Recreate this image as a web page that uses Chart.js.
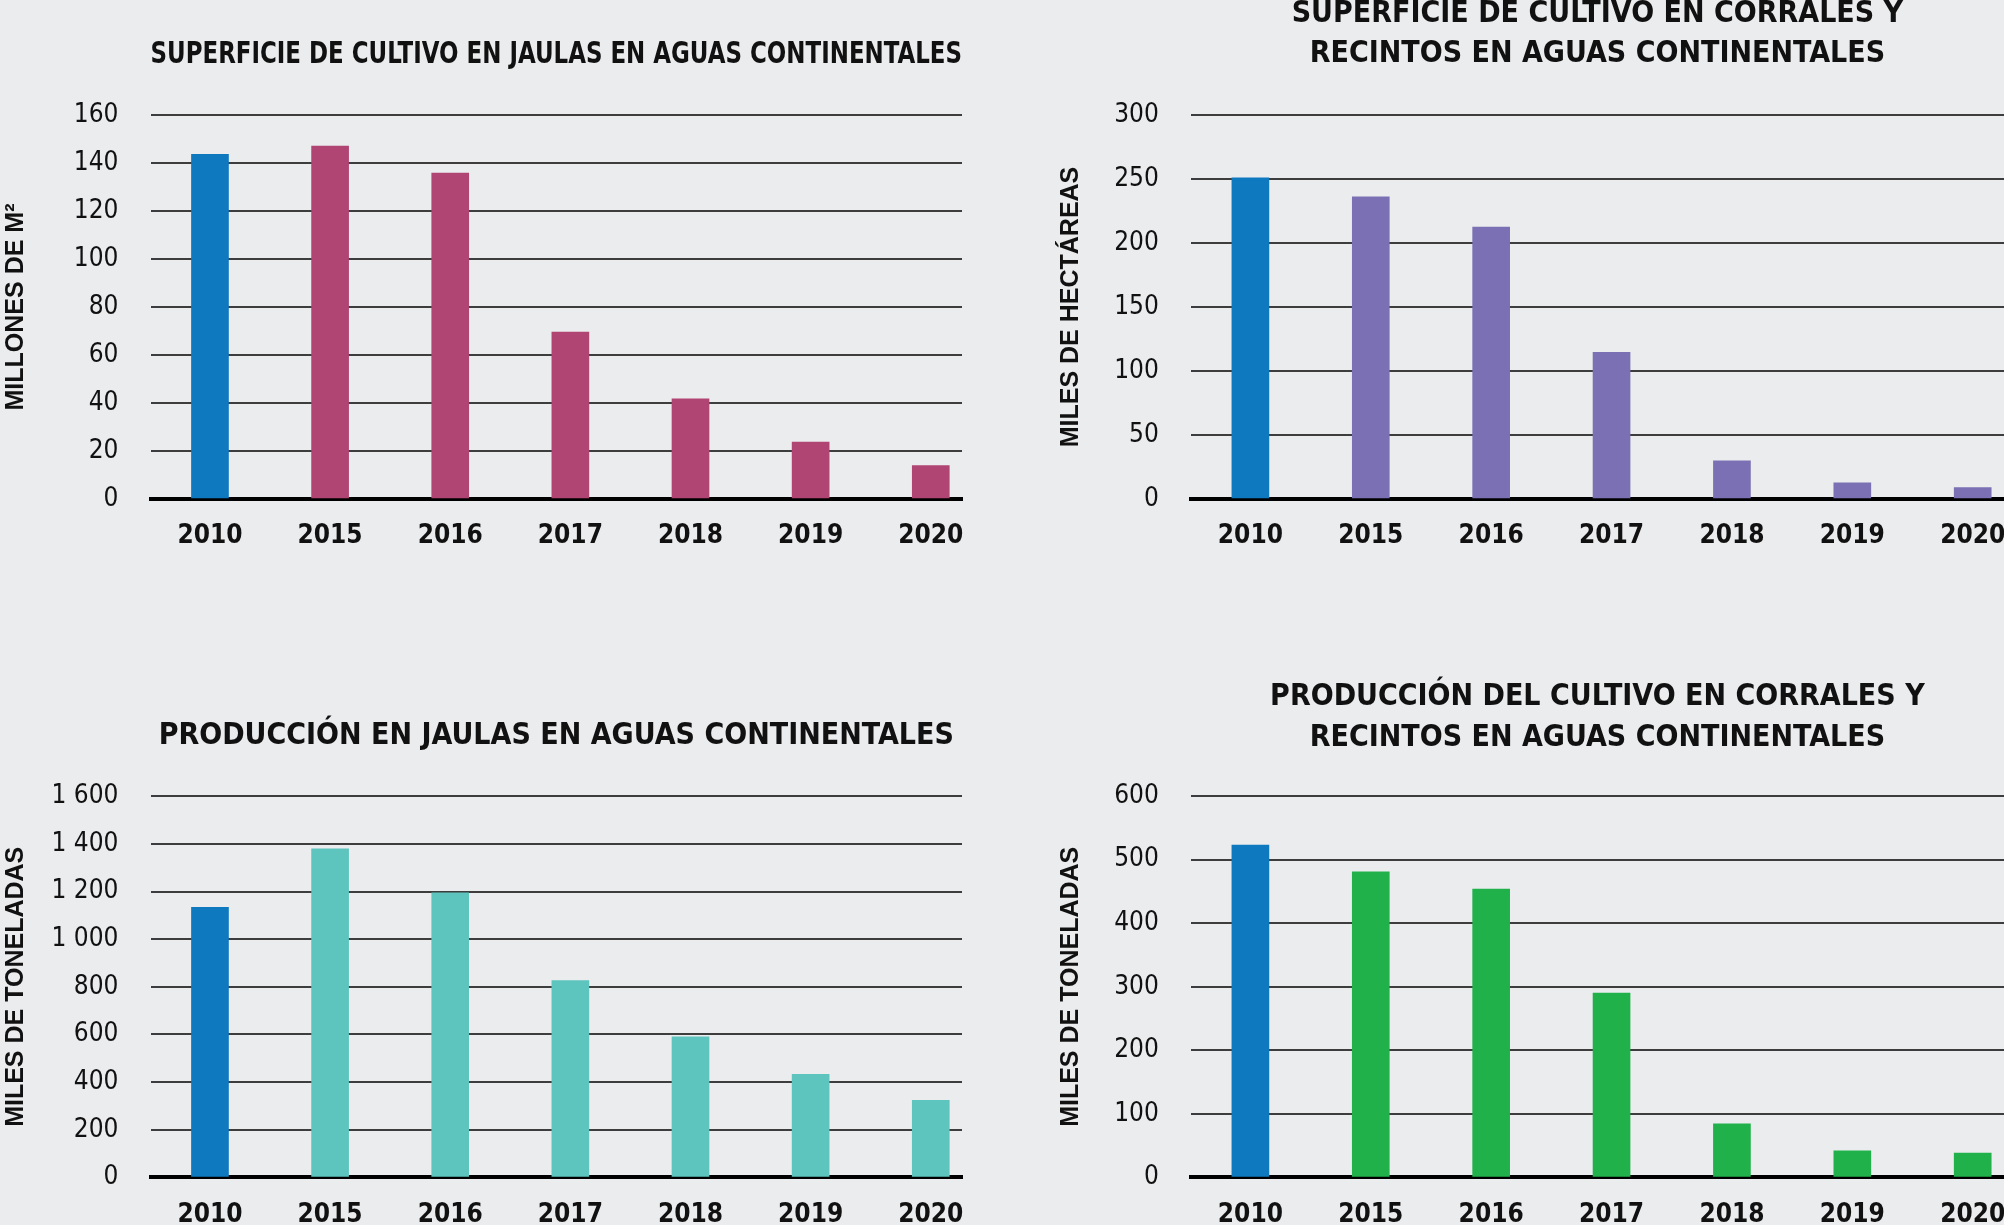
<!DOCTYPE html>
<html>
<head>
<meta charset="utf-8" />
<title>Cultivo en jaulas y corrales</title>
<script src="https://cdn.jsdelivr.net/npm/chart.js"></script>
<style>
  html, body { margin: 0; padding: 0; background: #ebecee; overflow: hidden; }
  canvas { position: absolute; }
</style>
</head>
<body>

<canvas id="c1" width="1002" height="632" style="left:0;top:-20px"></canvas>
<canvas id="c2" width="1040" height="632" style="left:1002px;top:-20px"></canvas>
<canvas id="c3" width="1002" height="613" style="left:0;top:612px"></canvas>
<canvas id="c4" width="1040" height="613" style="left:1002px;top:612px"></canvas>

<script>
// years shown on every panel
const years = ['2010', '2015', '2016', '2017', '2018', '2019', '2020'];

// superficie de cultivo en jaulas (millones de m2)
const jaulasSuperficie = [143.6, 147, 135.8, 69.6, 41.7, 23.7, 13.9];
// superficie de cultivo en corrales y recintos (miles de hectareas)
const corralesSuperficie = [251, 236, 212.4, 114.5, 29.9, 12.7, 9];
// produccion en jaulas (miles de toneladas)
const jaulasProduccion = [1134, 1379, 1194, 826, 590, 433, 324];
// produccion en corrales y recintos (miles de toneladas)
const corralesProduccion = [523, 481, 454, 290, 84.5, 42, 38.4];

const NARROW = "'Liberation Sans Narrow', 'DejaVu Sans Condensed', 'Arial Narrow', sans-serif";
const BLUE = '#0f79c0';

function miles(v) {
  if (v >= 1000) return Math.floor(v / 1000) + ' ' + String(v % 1000).padStart(3, '0');
  return String(v);
}

function makeChart(id, o) {
  const colors = o.values.map((v, i) => i === 0 ? BLUE : o.color);
  return new Chart(document.getElementById(id), {
    type: 'bar',
    data: {
      datasets: [{
        data: o.values.map((v, i) => ({ x: i, y: v })),
        backgroundColor: colors,
        barThickness: 37
      }]
    },
    options: {
      responsive: false,
      animation: false,
      layout: { padding: { left: 0, right: o.padRight, top: 0, bottom: 0 } },
      plugins: {
        legend: { display: false },
        tooltip: { enabled: false },
        title: {
          display: true,
          text: o.title,
          fullSize: false,
          color: '#111',
          font: { family: NARROW, size: 30, weight: 'bold', lineHeight: 40.5 / 30 },
          padding: { top: o.titleTop, bottom: o.titleBottom }
        }
      },
      scales: {
        x: {
          type: 'linear',
          offset: false,
          min: -0.495,
          max: 6.26,
          z: 1,
          afterBuildTicks: (s) => { s.ticks = years.map((y, i) => ({ value: i })); },
          afterFit: (s) => { s.height = o.xHeight; },
          grid: { display: false },
          border: { display: true, color: '#000', width: 4 },
          ticks: {
            padding: 14,
            color: '#111',
            font: { family: NARROW, size: 26, weight: 'bold' },
            callback: (v) => years[v]
          }
        },
        y: {
          min: 0,
          max: o.max,
          afterFit: (s) => { s.width = o.yWidth; },
          border: { display: false },
          grid: {
            drawTicks: false,
            lineWidth: 2,
            color: (ctx) => ctx.tick && ctx.tick.value === 0 ? 'rgba(0,0,0,0)' : '#3d3d3d'
          },
          ticks: {
            stepSize: o.step,
            padding: 32,
            color: '#111',
            font: { family: NARROW, size: 26 },
            callback: (v) => miles(v)
          },
          title: {
            display: true,
            text: o.yTitle,
            color: '#111',
            padding: { top: o.yTitlePad, bottom: 0 },
            font: { family: "'Liberation Sans', Arial, sans-serif", size: 25, weight: 'bold' }
          }
        }
      }
    }
  });
}

makeChart('c1', {
  title: 'SUPERFICIE DE CULTIVO EN JAULAS EN AGUAS CONTINENTALES',
  yTitle: 'MILLONES DE M²',
  values: jaulasSuperficie, color: '#b04473', max: 160, step: 20,
  padRight: 40, yWidth: 150.5, yTitlePad: 1,
  titleTop: 54.5, titleBottom: 40, xHeight: 113
});

makeChart('c2', {
  title: ['SUPERFICIE DE CULTIVO EN CORRALES Y', 'RECINTOS EN AGUAS CONTINENTALES'],
  yTitle: 'MILES DE HECTÁREAS',
  values: corralesSuperficie, color: '#7a70b3', max: 300, step: 50,
  padRight: 38, yWidth: 188.8, yTitlePad: 54,
  titleTop: 13.5, titleBottom: 40.5, xHeight: 113
});

makeChart('c3', {
  title: 'PRODUCCIÓN EN JAULAS EN AGUAS CONTINENTALES',
  yTitle: 'MILES DE TONELADAS',
  values: jaulasProduccion, color: '#5dc4be', max: 1600, step: 200,
  padRight: 40, yWidth: 150.5, yTitlePad: 1,
  titleTop: 104, titleBottom: 39.7, xHeight: 45
});

makeChart('c4', {
  title: ['PRODUCCIÓN DEL CULTIVO EN CORRALES Y', 'RECINTOS EN AGUAS CONTINENTALES'],
  yTitle: 'MILES DE TONELADAS',
  values: corralesProduccion, color: '#21b14b', max: 600, step: 100,
  padRight: 38, yWidth: 188.8, yTitlePad: 54,
  titleTop: 65, titleBottom: 38.2, xHeight: 45
});
</script>
</body>
</html>
